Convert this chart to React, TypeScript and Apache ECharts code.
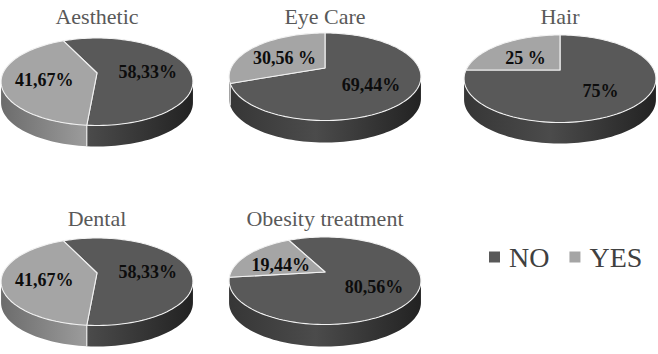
import React, { useEffect, useRef } from 'react';
import * as echarts from 'echarts';

// ---- data ----
const pieTitles = ['Aesthetic', 'Eye Care', 'Hair', 'Dental', 'Obesity treatment'];
const noValues = [58.33, 69.44, 75, 58.33, 80.56];
const yesValues = [41.67, 30.56, 25, 41.67, 19.44];
const noLabels = ['58,33%', '69,44%', '75%', '58,33%', '80,56%'];
const yesLabels = ['41,67%', '30,56 %', '25 %', '41,67%', '19,44%'];
const legendNames = ['NO', 'YES'];

// ---- layout / style ----
const pieCenters = [[97, 73], [325, 68], [560, 70], [97, 273], [325, 272]];
const startAngles = [335, 0, 0, 335, 333];
const depths = [21, 22, 21, 21, 22];
const titleY = [16, 16, 16, 218, 218];
const RX = 94;
const RY = 42;
const K = 0.2;
const LABEL_R = 0.56;
const LABEL_DY = 3;
const FONT = 'Liberation Serif';
const faceColors = ['#595959', '#a5a5a5'];
const sideStops = [
  ['#363636', '#4b4b4b', '#222222'],
  ['#6c6c6c', '#9c9c9c', '#5a5a5a'],
];

function proj(cx: number, cy: number, r: number, deg: number): number[] {
  const t = (deg * Math.PI) / 180;
  const u = r * Math.sin(t);
  const v = r * Math.cos(t);
  const w = 1 + K * v;
  return [cx + (RX * u) / w, cy - (RY * v) / w];
}

function arcPts(cx: number, cy: number, a: number, b: number, dy = 0): number[][] {
  const n = Math.max(2, Math.ceil(Math.abs(b - a) / 2));
  const pts: number[][] = [];
  for (let i = 0; i <= n; i++) {
    const p = proj(cx, cy, 1, a + ((b - a) * i) / n);
    pts.push([p[0], p[1] + dy]);
  }
  return pts;
}

const T1 = (Math.acos(-K) * 180) / Math.PI; // ~101.5
const T2 = 360 - T1;

function renderPie(params: any, api: any) {
  const i = api.value(0);
  const vals = [api.value(1), api.value(2)];
  const total = vals[0] + vals[1];
  const [cx, cy] = pieCenters[i];
  const d = depths[i];
  const labels = [noLabels[i], yesLabels[i]];
  const slices: number[][] = [];
  let a = startAngles[i];
  for (let s = 0; s < 2; s++) {
    const span = (vals[s] / total) * 360;
    slices.push([a, a + span]);
    a += span;
  }
  const children: any[] = [];
  // sides
  slices.forEach(([sa, sb], s) => {
    for (let m = -1; m <= 1; m++) {
      const lo = Math.max(sa, T1 + 360 * m);
      const hi = Math.min(sb, T2 + 360 * m);
      if (hi > lo) {
        const top = arcPts(cx, cy, lo, hi, 0);
        const bot = arcPts(cx, cy, hi, lo, d);
        const st = sideStops[s];
        children.push({
          type: 'polygon',
          shape: { points: top.concat(bot) },
          style: {
            fill: new echarts.graphic.LinearGradient(cx - 96, 0, cx + 96, 0, [
              { offset: 0, color: st[0] },
              { offset: 0.45, color: st[1] },
              { offset: 1, color: st[2] },
            ], true),
            stroke: null,
          },
        });
      }
    }
  });
  // seams
  slices.forEach(([sa]) => {
    const t = ((sa % 360) + 360) % 360;
    if (t > T1 && t < T2) {
      const p = proj(cx, cy, 1, t);
      children.push({
        type: 'line',
        shape: { x1: p[0], y1: p[1], x2: p[0], y2: p[1] + d },
        style: { stroke: '#e8e8e8', lineWidth: 1.2 },
      });
    }
  });
  // top faces
  slices.forEach(([sa, sb], s) => {
    const pts = [proj(cx, cy, 0, 0)].concat(arcPts(cx, cy, sa, sb, 0));
    children.push({
      type: 'polygon',
      shape: { points: pts },
      style: { fill: faceColors[s], stroke: '#f2f2f2', lineWidth: 1.1, lineJoin: 'round' },
    });
  });
  // labels
  slices.forEach(([sa, sb], s) => {
    const p = proj(cx, cy, LABEL_R, (sa + sb) / 2);
    children.push({
      type: 'text',
      style: {
        text: labels[s],
        x: p[0],
        y: p[1] + LABEL_DY,
        fill: '#0d0d0d',
        fontFamily: FONT,
        fontSize: 18,
        fontWeight: 'bold',
        align: 'center',
        verticalAlign: 'middle',
        textAlign: 'center',
        textVerticalAlign: 'middle',
      },
    });
  });
  // title
  children.push({
    type: 'text',
    style: {
      text: pieTitles[i],
      x: cx,
      y: titleY[i],
      fill: '#595959',
      fontFamily: FONT,
      fontSize: 22,
      fontWeight: 'normal',
      align: 'center',
      verticalAlign: 'middle',
      textAlign: 'center',
      textVerticalAlign: 'middle',
    },
  });
  return { type: 'group', children };
}

export default function App() {
  const ref = useRef<HTMLDivElement>(null);
  useEffect(() => {
    if (!ref.current) return;
    const chart = echarts.init(ref.current, undefined, { renderer: 'svg' });
    chart.setOption({
      animation: false,
      backgroundColor: '#ffffff',
      legend: {
        data: legendNames,
        left: 489,
        top: 243,
        padding: 0,
        icon: 'rect',
        itemWidth: 11,
        itemHeight: 11,
        itemGap: 20,
        selectedMode: false,
        textStyle: { fontFamily: FONT, fontSize: 28, color: '#404040', padding: [0, 0, 0, 4] },
      },
      series: [
        {
          type: 'custom',
          coordinateSystem: 'none',
          silent: true,
          data: pieTitles.map((_, i) => [i, noValues[i], yesValues[i]]),
          renderItem: renderPie,
        },
        {
          type: 'custom',
          name: legendNames[0],
          coordinateSystem: 'none',
          data: [],
          itemStyle: { color: faceColors[0] },
          renderItem: () => null,
        },
        {
          type: 'custom',
          name: legendNames[1],
          coordinateSystem: 'none',
          data: [],
          itemStyle: { color: faceColors[1] },
          renderItem: () => null,
        },
      ],
    });
    return () => chart.dispose();
  }, []);
  return (
    <div
      ref={ref}
      style={{ position: 'fixed', left: 0, top: 0, width: 658, height: 354, background: '#fff' }}
    />
  );
}
